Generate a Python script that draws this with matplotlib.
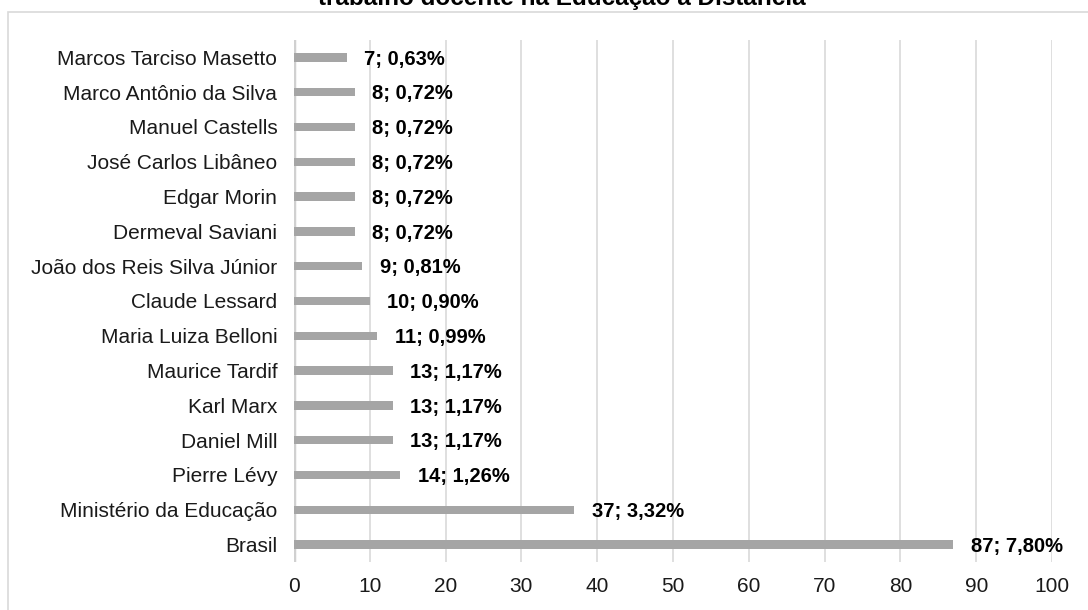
import matplotlib.pyplot as plt
import numpy as np

plt.rcParams['font.family'] = ['Liberation Sans', 'DejaVu Sans']

autores = ["Brasil", "Ministério da Educação", "Pierre Lévy", "Daniel Mill",
           "Karl Marx", "Maurice Tardif", "Maria Luiza Belloni", "Claude Lessard",
           "João dos Reis Silva Júnior", "Dermeval Saviani", "Edgar Morin",
           "José Carlos Libâneo", "Manuel Castells", "Marco Antônio da Silva",
           "Marcos Tarciso Masetto"]
citacoes = [87, 37, 14, 13, 13, 13, 11, 10, 9, 8, 8, 8, 8, 8, 7]
percentuais = ["7,80%", "3,32%", "1,26%", "1,17%", "1,17%", "1,17%", "0,99%",
               "0,90%", "0,81%", "0,72%", "0,72%", "0,72%", "0,72%", "0,72%", "0,63%"]

fig = plt.figure(figsize=(10.88, 6.10), dpi=100)
ax = fig.add_axes([294 / 1088, 1 - 562 / 610, 758 / 1088, 522 / 610])

y = np.arange(len(autores))
ax.barh(y, citacoes, height=0.24, color="#a5a5a5", zorder=3)
for yi, v, p in zip(y, citacoes, percentuais):
    ax.text(v + 2.3, yi - 0.05, f"{v}; {p}", va="center", ha="left",
            fontsize=14.5, fontweight="bold", color="black", zorder=4)

ax.set_xlim(0, 100)
ax.set_ylim(-0.5, len(autores) - 0.5)
ax.set_xticks(np.arange(0, 101, 10))
ax.set_yticks(y)
ax.set_yticklabels(autores)
ax.tick_params(axis="both", length=0, labelsize=15, colors="#1a1a1a")
ax.tick_params(axis="y", pad=12)
ax.tick_params(axis="x", pad=11)
ax.grid(axis="x", color="#d9d9d9", linewidth=1.2, zorder=0)
for s in ax.spines.values():
    s.set_visible(False)
ax.axvline(0, color="#d0d0d0", linewidth=2.5, zorder=2)

# moldura do gráfico
frame = plt.Rectangle((8 / 1088, -0.05), 1.1, 1 - 12 / 610 + 0.05,
                      transform=fig.transFigure, fill=False,
                      edgecolor="#d9d9d9", linewidth=1.2)
fig.add_artist(frame)

fig.text(562 / 1088, 1 - 5 / 610, "trabalho docente na Educação a Distância",
         ha="center", va="baseline", fontsize=17.5, fontweight="bold")

fig.savefig("out.png", dpi=100)
